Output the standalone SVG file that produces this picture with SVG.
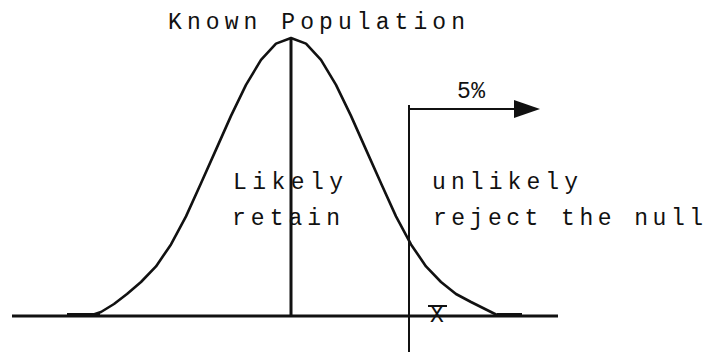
<svg xmlns="http://www.w3.org/2000/svg" width="711" height="352" viewBox="0 0 711 352">
<style>
.t{font-family:"Liberation Mono","Courier New","DejaVu Sans Mono",monospace;fill:#111;font-size:23px}
.ln{stroke:#111;fill:none}
</style>
<rect width="711" height="352" fill="#fff"/>
<g id="curve">
<polyline class="ln" stroke-width="2.6" stroke-linejoin="round" points="92,315 101,312 114,304 127,294 141,282 156,266.4 171,244.4 186,216.4 201,183.3 216,149.6 231,115.9 246,84.9 261,59.9 276,43.6 291,38 306,43.6 321,59.9 336,84.9 351,115.9 366,149.6 381,183.3 396,216.4 411,244.4 426,266.4 441,282 456,294 471,302 485,309 497,315"/>
<line class="ln" x1="67" y1="315" x2="100" y2="315" stroke-width="4"/>
<line class="ln" x1="497" y1="315" x2="522" y2="315" stroke-width="4"/>
</g>
<g id="axes">
<line class="ln" x1="12" y1="316" x2="558" y2="316" stroke-width="3"/>
<line class="ln" x1="291" y1="38" x2="291" y2="316" stroke-width="3"/>
<line class="ln" x1="409" y1="105" x2="409" y2="352" stroke-width="2"/>
</g>
<g id="connectors">
<line class="ln" x1="409" y1="109" x2="520" y2="109" stroke-width="2"/>
<polygon points="514,100 540,109 514,118" fill="#111"/>
</g>
<g id="labels">
<text class="t" x="168" y="29" textLength="297" lengthAdjust="spacing">Known Population</text>
<text class="t" x="457" y="98" font-size="17" textLength="28" lengthAdjust="spacing">5%</text>
<text class="t" x="233" y="189" textLength="110" lengthAdjust="spacing">Likely</text>
<text class="t" x="232" y="225" textLength="108" lengthAdjust="spacing">retain</text>
<text class="t" x="432" y="189" textLength="146" lengthAdjust="spacing">unlikely</text>
<text class="t" x="433" y="225" textLength="270" lengthAdjust="spacing">reject the null</text>
</g>
<g id="xbar">
<line class="ln" x1="428" y1="306" x2="447" y2="306" stroke-width="2"/>
<text class="t" x="437" y="322" font-size="18" text-anchor="middle">X</text>
</g>
</svg>
